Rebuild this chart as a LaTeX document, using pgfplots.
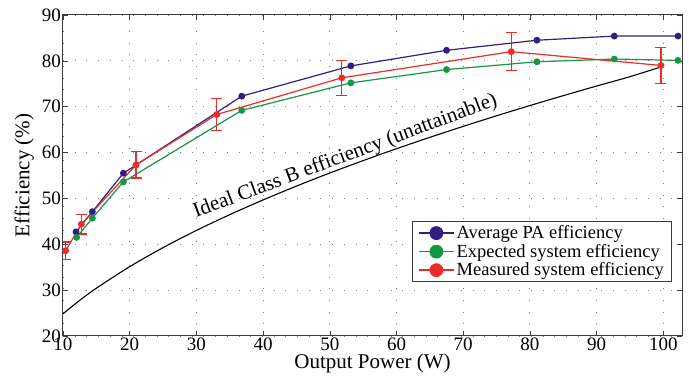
\documentclass[border=0pt]{standalone}
\usepackage{fontspec}
\setmainfont{Liberation Serif}
\usepackage{pgfplots}
\pgfplotsset{compat=1.18}
\usetikzlibrary{calc}
\definecolor{cblue}{RGB}{50,30,130}
\definecolor{cgreen}{RGB}{20,150,70}
\definecolor{cred}{RGB}{235,45,40}
\definecolor{frame}{RGB}{60,60,60}
\begin{document}
\begin{tikzpicture}
\begin{axis}[
  scale only axis, width=619pt, height=321pt,
  xmin=10, xmax=102.8, ymin=20, ymax=90,
  xtick={10,20,...,100}, ytick={20,30,...,90},
  tick align=inside, major tick length=5pt,
  tick style={frame, line width=0.6pt},
  axis line style={frame, line width=1pt},
  grid=major,
  major grid style={gray, line width=0.9pt, dash pattern=on 0.9pt off 10.8pt},
  /pgf/number format/assume math mode=true,
  ticklabel style={font=\fontsize{19}{20}\selectfont},
  xticklabel style={inner sep=1pt, yshift=-1pt},
  yticklabel style={inner sep=2pt},
  xlabel={Output Power (W)}, ylabel={Efficiency (\%)},
  label style={font=\fontsize{21}{22}\selectfont},
  xlabel style={at={(axis description cs:0.5,0)}, anchor=north, yshift=-18pt, inner sep=0pt},
  ylabel style={at={(axis description cs:0,0.5)}, anchor=south, yshift=29pt, inner sep=0pt},
  legend style={at={(axis cs:101.35,31.8)}, anchor=south east, font=\fontsize{18.5}{19}\selectfont,
    draw=frame, line width=0.9pt, inner xsep=6pt, inner ysep=2pt, row sep=0pt, cells={anchor=west}},
  legend cell align=left,
  legend image code/.code={\draw[#1, line width=1.6pt] (0pt,0pt) -- (35pt,0pt); \fill[#1] (17.5pt,0pt) circle (6.3pt);},
]
\addplot[black, line width=1.1pt, smooth, forget plot] coordinates {
(10,24.84) (12.5,27.77) (15,30.42) (20,35.12) (25,39.27) (30,43.02) (35,46.46) (40,49.67)
(45,52.69) (50,55.54) (55,58.25) (60,60.84) (65,63.32) (70,65.71) (75,68.02) (80,70.25)
(85,72.41) (90,74.51) (95,76.55) (99.7,78.70)};
\addplot[cblue, line width=1.2pt, mark=*, mark size=2.8pt, mark options={fill=cblue}] coordinates {
(11.95,42.7) (14.4,47.1) (19.05,55.5) (36.8,72.3) (53.15,78.9) (67.5,82.3) (81.05,84.5) (92.65,85.4) (102.2,85.4)};
\addlegendentry{Average PA efficiency}
\addplot[cgreen, line width=1.2pt, mark=*, mark size=2.8pt, mark options={fill=cgreen}] coordinates {
(12.05,41.5) (14.4,45.7) (19.05,53.6) (36.8,69.2) (53.15,75.2) (67.5,78.1) (81.05,79.8) (92.65,80.4) (102.2,80.1)};
\addlegendentry{Expected system efficiency}
\addplot[cred, line width=1.2pt, mark=*, mark size=2.8pt, mark options={fill=cred},
  error bars/.cd, y dir=both, y explicit,
  error bar style={cred, line width=1.1pt},
  error mark options={cred, line width=1.1pt, mark size=5.5pt, rotate=90}] coordinates {
(10.4,38.6) +- (0,1.9)
(12.75,44.4) +- (0,2.15)
(20.95,57.3) +- (0,2.85)
(33.05,68.3) +- (0,3.4)
(51.8,76.3) +- (0,3.8)
(77.2,82.0) +- (0,4.1)
(99.65,79.0) +- (0,3.95)};
\addlegendentry{Measured system efficiency}
\node[anchor=base, rotate=20.5, inner sep=0pt, font=\fontsize{21}{22}\selectfont] at (axis cs:52.6,58.1) {Ideal Class B efficiency (unattainable)};
\end{axis}
\pgfresetboundingbox
\path ($(current axis.south west)+(-63pt,-41pt)$) rectangle ($(current axis.north east)+(7pt,15pt)$);
\end{tikzpicture}
\end{document}
